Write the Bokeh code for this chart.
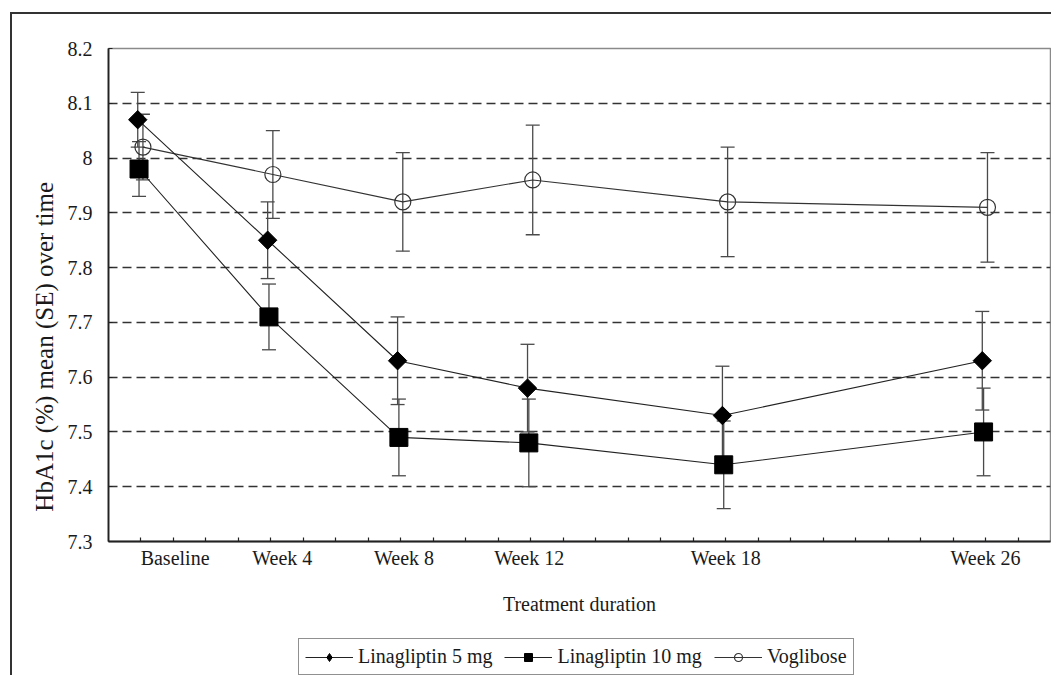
import math
from bokeh.plotting import figure
from bokeh.layouts import row, column
from bokeh.models import (ColumnDataSource, Range1d, FixedTicker, Whisker, TeeHead,
                          Legend, LegendItem, Label, InlineStyleSheet)
from bokeh.transform import dodge
from bokeh.embed import file_html
from bokeh.resources import INLINE

# ---------------- data ----------------
visits = ["Baseline", "Week 4", "Week 8", "Week 12", "Week 18", "Week 26"]
weeks = [0, 4, 8, 12, 18, 26]
lina5_mean = [8.07, 7.85, 7.63, 7.58, 7.53, 7.63]
lina5_se = [0.05, 0.07, 0.08, 0.08, 0.09, 0.09]
lina10_mean = [7.98, 7.71, 7.49, 7.48, 7.44, 7.50]
lina10_se = [0.05, 0.06, 0.07, 0.08, 0.08, 0.08]
vog_mean = [8.02, 7.97, 7.92, 7.96, 7.92, 7.91]
vog_se = [0.06, 0.08, 0.09, 0.10, 0.10, 0.10]
y_ticks = [7.3, 7.4, 7.5, 7.6, 7.7, 7.8, 7.9, 8.0, 8.1, 8.2]
y_tick_labels = ["7.3", "7.4", "7.5", "7.6", "7.7", "7.8", "7.9", "8", "8.1", "8.2"]
grid_values = [7.4, 7.5, 7.6, 7.7, 7.8, 7.9, 8.0, 8.1]
series_names = ["Linagliptin 5 mg", "Linagliptin 10 mg", "Voglibose"]
y_title = "HbA1c (%) mean (SE) over time"
x_title = "Treatment duration"

FONT = "Liberation Serif"
INK = "#1a1a1a"

def make_source(mean, se):
    return ColumnDataSource(dict(
        week=weeks, mean=mean,
        lo=[m - s for m, s in zip(mean, se)],
        hi=[m + s for m, s in zip(mean, se)],
    ))

src5 = make_source(lina5_mean, lina5_se)
src10 = make_source(lina10_mean, lina10_se)
srcv = make_source(vog_mean, vog_se)

def blank_fig(w, h):
    f = figure(width=w, height=h, x_range=Range1d(0, w), y_range=Range1d(0, h),
               x_axis_type=None, y_axis_type=None,
               output_backend="svg", toolbar_location=None,
               min_border=0, min_border_left=0, min_border_right=0,
               min_border_top=0, min_border_bottom=0,
               background_fill_color="white", border_fill_color="white")
    f.outline_line_color = None
    f.xgrid.visible = False
    f.ygrid.visible = False
    return f

# ---------------- main chart ----------------
p = figure(width=991, height=638,
           x_range=Range1d(-1, 28), y_range=Range1d(7.3, 8.2),
           output_backend="svg", toolbar_location=None,
           min_border_left=48, min_border_right=1,
           min_border_top=48, min_border_bottom=97,
           background_fill_color="white", border_fill_color="white")

p.outline_line_color = "#8a8a8a"
p.outline_line_width = 1.5

p.xgrid.grid_line_color = None
p.ygrid.ticker = FixedTicker(ticks=grid_values)
p.ygrid.grid_line_color = "#333333"
p.ygrid.grid_line_width = 1.6
p.ygrid.grid_line_dash = "9 5"

p.yaxis.ticker = FixedTicker(ticks=y_ticks)
p.yaxis.major_label_overrides = dict(zip(y_ticks, y_tick_labels))
p.yaxis.major_tick_in = 4
p.yaxis.major_tick_out = 0
p.yaxis.minor_tick_line_color = None
p.yaxis.major_label_standoff = 16
p.yaxis.major_label_text_font = FONT
p.yaxis.major_label_text_font_size = "20px"
p.yaxis.major_label_text_color = INK
p.yaxis.axis_line_color = "#222222"
p.yaxis.axis_line_width = 1.8
p.yaxis.major_tick_line_color = "#222222"

# x axis: one small tick per week, visit names as labels
label_anchor = [1.05, 4.35, 8.1, 11.95, 18.0, 26.0]
p.xaxis.ticker = FixedTicker(ticks=label_anchor, minor_ticks=list(range(0, 28)))
p.xaxis.major_label_overrides = dict(zip(label_anchor, visits))
p.xaxis.major_tick_in = 0
p.xaxis.major_tick_out = 0
p.xaxis.minor_tick_in = 4
p.xaxis.minor_tick_out = 0
p.xaxis.minor_tick_line_color = "#222222"
p.xaxis.minor_tick_line_width = 1.2
p.xaxis.major_label_standoff = 5
p.xaxis.major_label_text_font = FONT
p.xaxis.major_label_text_font_size = "20px"
p.xaxis.major_label_text_color = INK
p.xaxis.axis_line_color = "#222222"
p.xaxis.axis_line_width = 1.8
p.xaxis.axis_label = x_title
p.xaxis.axis_label_text_font = FONT
p.xaxis.axis_label_text_font_size = "20px"
p.xaxis.axis_label_text_font_style = "normal"
p.xaxis.axis_label_text_color = INK
p.xaxis.axis_label_standoff = 21

def add_whisker(src, shift):
    w = Whisker(source=src, base=dodge("week", shift), upper="hi", lower="lo",
                line_color="#4a4a4a", line_width=1.3,
                upper_head=TeeHead(size=14, line_color="#4a4a4a", line_width=1.3),
                lower_head=TeeHead(size=14, line_color="#4a4a4a", line_width=1.3))
    p.add_layout(w)

add_whisker(srcv, 0.06)
add_whisker(src5, -0.1)
add_whisker(src10, -0.06)

p.line(dodge("week", 0.06), "mean", source=srcv, line_color="#333333", line_width=1.1)
p.scatter(dodge("week", 0.06), "mean", source=srcv, marker="circle", size=16,
          fill_color=None, line_color="#333333", line_width=1.2)
p.line(dodge("week", -0.1), "mean", source=src5, line_color="#222222", line_width=1.1)
p.scatter(dodge("week", -0.1), "mean", source=src5, marker="square", angle=math.pi / 4,
          size=13, fill_color="black", line_color="black")
p.line(dodge("week", -0.06), "mean", source=src10, line_color="#222222", line_width=1.1)
p.scatter(dodge("week", -0.06), "mean", source=src10, marker="square", size=18,
          fill_color="black", line_color="black")

# ---------------- y-axis title strip ----------------
yl = blank_fig(60, 638)
yl.add_layout(Label(x=44, y=252, text=y_title, angle=math.pi / 2,
                    text_align="center", text_baseline="middle",
                    text_font=FONT, text_font_size="25px", text_color=INK))

# ---------------- legend strip (legend-only proxy glyphs, no visible points) ----------------
lg = blank_fig(1051, 37)
def proxy():
    return ColumnDataSource(dict(x=[float("nan")], y=[float("nan")]))
pl5 = lg.line("x", "y", source=proxy(), line_color="#222222", line_width=1.1)
pm5 = lg.scatter("x", "y", source=proxy(), marker="diamond", size=14,
                 fill_color="black", line_color="black")
pl10 = lg.line("x", "y", source=proxy(), line_color="#222222", line_width=1.1)
pm10 = lg.scatter("x", "y", source=proxy(), marker="square", size=12,
                  fill_color="black", line_color="black")
plv = lg.line("x", "y", source=proxy(), line_color="#333333", line_width=1.1)
pmv = lg.scatter("x", "y", source=proxy(), marker="circle", size=10,
                 fill_color=None, line_color="#333333", line_width=1.2)
legend = Legend(items=[
    LegendItem(label=series_names[0], renderers=[pl5, pm5]),
    LegendItem(label=series_names[1], renderers=[pl10, pm10]),
    LegendItem(label=series_names[2], renderers=[plv, pmv]),
], location=(298, 0), orientation="horizontal",
    label_text_font=FONT, label_text_font_size="20px", label_text_color=INK,
    glyph_width=48, glyph_height=20, label_standoff=5, spacing=12, padding=6, margin=0,
    border_line_color="#222222", border_line_width=1.5,
    background_fill_color="white", background_fill_alpha=1.0)
lg.add_layout(legend)

frame_css = InlineStyleSheet(css="""
:host::after {
  content: ""; position: absolute; left: 10px; top: 12px; right: 0; bottom: 0;
  border-left: 2px solid #333; border-top: 2px solid #333; pointer-events: none;
}
""")

layout = column(row(yl, p, spacing=0), lg, spacing=0)
layout.stylesheets = [frame_css]

open("out.html", "w").write(file_html(layout, INLINE))
